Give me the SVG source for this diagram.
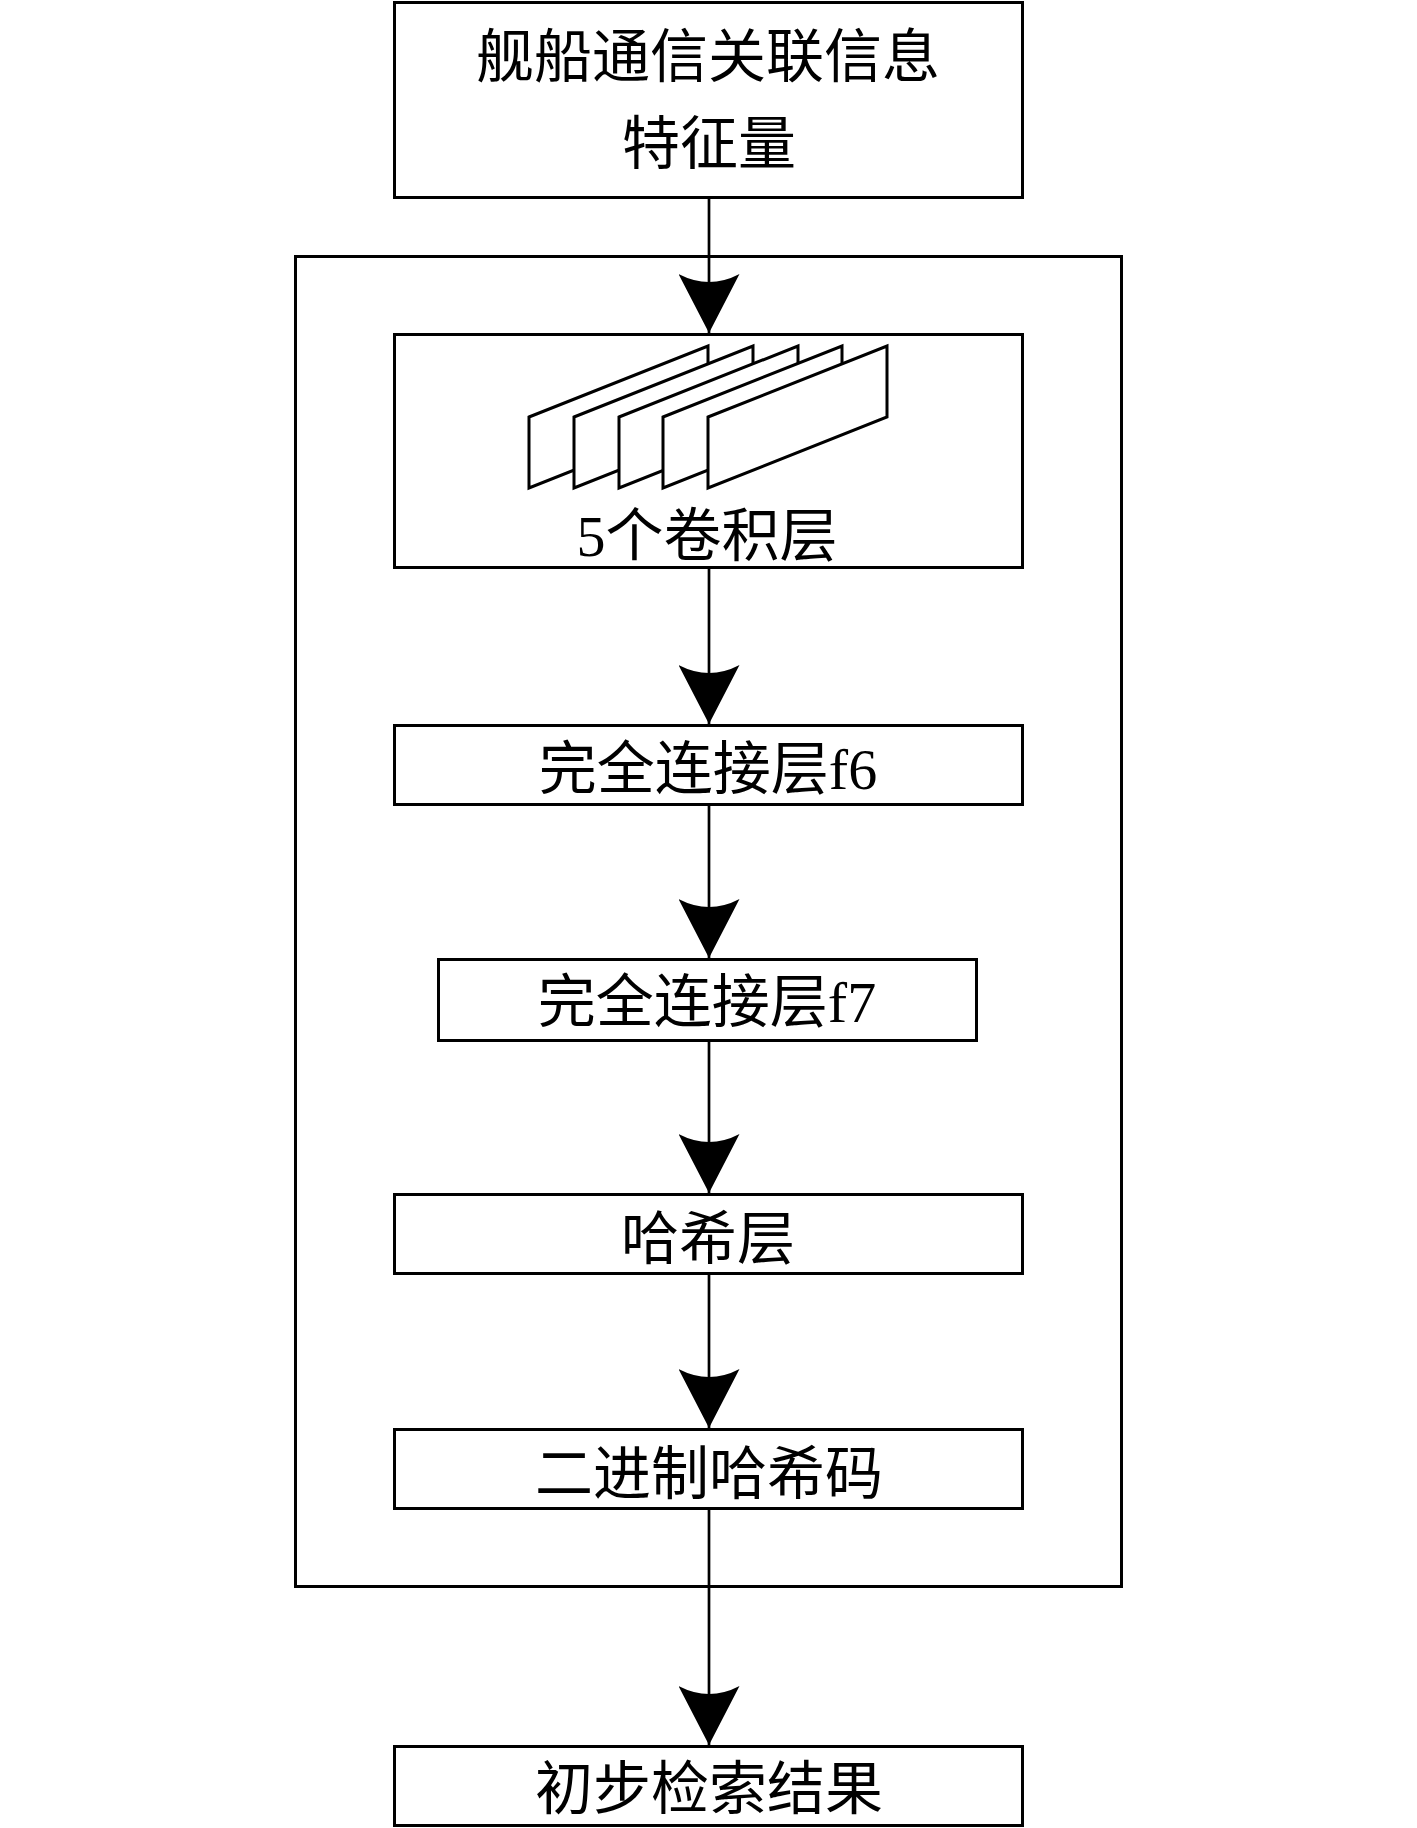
<svg xmlns="http://www.w3.org/2000/svg" width="1417" height="1828" viewBox="0 0 1417 1828">
<style>
.box{fill:#fff;stroke:#000;stroke-width:3}
.frame{fill:none;stroke:#000;stroke-width:3}
.sheet{fill:#fff;stroke:#000;stroke-width:3;stroke-linejoin:miter}
.lbl{font-family:"Liberation Serif","Noto Sans CJK SC",serif;font-size:58px;fill:#000;text-anchor:middle}
.conn{stroke:#000;stroke-width:2.7;fill:none;marker-end:url(#arr)}
</style>
<defs>
<marker id="arr" viewBox="0 0 60 61" markerWidth="60" markerHeight="61" refX="59" refY="30.5" orient="auto" markerUnits="userSpaceOnUse">
<path d="M59,30.5 L0,0 Q16,30.5 0,61 Z" fill="#000"/>
</marker>
</defs>
<rect width="1417" height="1828" fill="#fff"/>
<g id="frame">
<rect class="frame" x="295.5" y="256.5" width="826" height="1330"/>
</g>
<g id="connectors">
<line class="conn" x1="709" y1="197" x2="709" y2="333"/>
<line class="conn" x1="709" y1="567" x2="709" y2="724"/>
<line class="conn" x1="709" y1="804" x2="709" y2="958"/>
<line class="conn" x1="709" y1="1040" x2="709" y2="1193"/>
<line class="conn" x1="709" y1="1273" x2="709" y2="1428"/>
<line class="conn" x1="709" y1="1508" x2="709" y2="1745"/>
</g>
<g id="input">
<rect class="box" x="394.5" y="2.5" width="628" height="195"/>
<text class="lbl" x="708" y="77">舰船通信关联信息</text>
<text class="lbl" x="709" y="164">特征量</text>
</g>
<g id="conv">
<rect class="box" x="394.5" y="334.5" width="628" height="233"/>
<polygon class="sheet" points="529,417 708,346 708,417 529,488"/>
<polygon class="sheet" points="574,417 753,346 753,417 574,488"/>
<polygon class="sheet" points="619,417 798,346 798,417 619,488"/>
<polygon class="sheet" points="663,417 842,346 842,417 663,488"/>
<polygon class="sheet" points="708,417 887,346 887,417 708,488"/>
<text class="lbl" x="707" y="556">5个卷积层</text>
</g>
<g id="fc6">
<rect class="box" x="394.5" y="725.5" width="628" height="79"/>
<text class="lbl" x="708" y="789">完全连接层f6</text>
</g>
<g id="fc7">
<rect class="box" x="438.5" y="959.5" width="538" height="81"/>
<text class="lbl" x="707" y="1022">完全连接层f7</text>
</g>
<g id="hash">
<rect class="box" x="394.5" y="1194.5" width="628" height="79"/>
<text class="lbl" x="708" y="1259">哈希层</text>
</g>
<g id="binary">
<rect class="box" x="394.5" y="1429.5" width="628" height="79"/>
<text class="lbl" x="709" y="1494">二进制哈希码</text>
</g>
<g id="result">
<rect class="box" x="394.5" y="1746.5" width="628" height="79"/>
<text class="lbl" x="709" y="1809">初步检索结果</text>
</g>
</svg>
